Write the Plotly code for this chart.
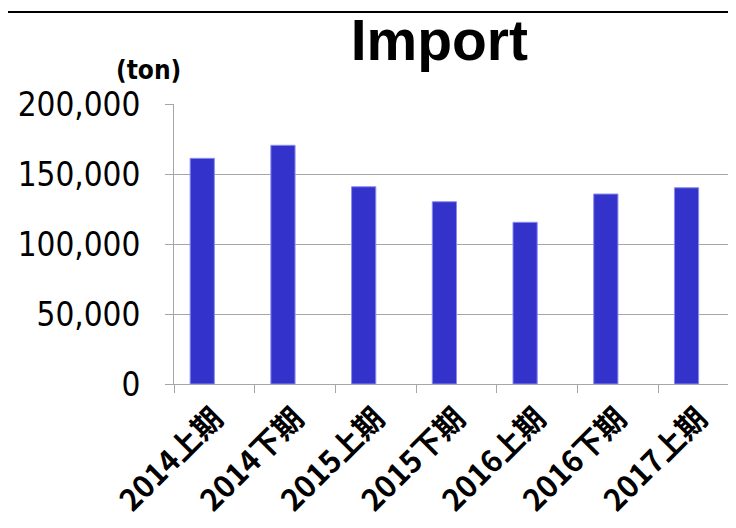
import plotly.graph_objects as go

# half-year import volume
periods = ["2014上期", "2014下期", "2015上期", "2015下期", "2016上期", "2016下期", "2017上期"]
import_ton = [161200, 170500, 140900, 130200, 115500, 135700, 140200]

fig = go.Figure()
# bars sit on the left half of each category (second, empty series slot on the right)
fig.add_trace(go.Bar(
    x=periods,
    y=import_ton,
    marker=dict(color="#3333CC", line=dict(color="#8c8cf0", width=1)),
    width=0.3,
    offset=-0.3,
))

grid = "#A6A6A6"
fig.update_layout(
    width=736, height=528,
    margin=dict(l=166, r=5, t=96, b=152),
    paper_bgcolor="white", plot_bgcolor="white",
    showlegend=False,
    title=dict(text="<b>Import</b>", x=0.586, xanchor="center", y=0.94, yanchor="middle",
               font=dict(family="Liberation Sans, Arial, sans-serif", size=57, color="black")),
)
fig.update_yaxes(
    range=[0, 200000], dtick=50000, tickformat=",",
    showgrid=True, gridcolor=grid, gridwidth=1,
    showline=True, linecolor=grid, linewidth=1,
    ticks="outside", ticklen=8, tickcolor=grid, ticklabelstandoff=18,
    zeroline=False, automargin=False,
    tickfont=dict(family="DejaVu Sans Condensed, DejaVu Sans, sans-serif", size=33, color="black"),
)
fig.update_xaxes(
    showline=True, linecolor=grid, linewidth=1,
    ticks="outside", ticklen=8, tickcolor=grid, tickson="boundaries",
    tickangle=-45, automargin=False, ticklabelstandoff=4, ticklabelshift=0,
    tickfont=dict(family="Noto Sans CJK JP, sans-serif", size=30, color="black", weight="bold"),
)
fig.add_annotation(
    text="<b>(ton)</b>", xref="paper", yref="paper", x=-0.046, y=1.0, yshift=34,
    xanchor="center", yanchor="middle", showarrow=False,
    font=dict(family="DejaVu Sans Condensed, sans-serif", size=26, color="black"),
)
# frame line along the top
fig.add_shape(type="line", xref="paper", yref="paper", x0=-0.4, x1=1.1, y0=1.329, y1=1.329,
              line=dict(color="black", width=2))

fig.write_html("out.html")
